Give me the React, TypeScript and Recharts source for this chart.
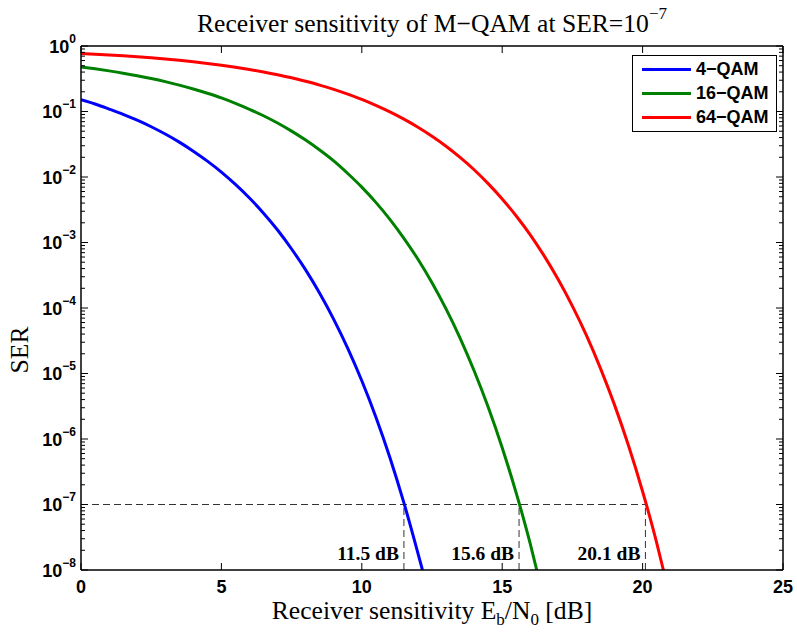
import React from "react";
import {
  LineChart,
  Line,
  XAxis,
  YAxis,
  ReferenceLine,
  ReferenceDot,
  Label,
  Legend,
  Customized,
} from "recharts";

// SER (every 0.5 dB, last point where each curve leaves the axes)
const qam4Snr = [0, 0.5, 1, 1.5, 2, 2.5, 3, 3.5, 4, 4.5, 5, 5.5, 6, 6.5, 7, 7.5, 8, 8.5, 9, 9.5, 10, 10.5, 11, 11.5, 12, 12.16];
const qam4Ser = [
  0.151, 0.13, 0.109, 0.0906, 0.0736, 0.0585, 0.0453, 0.0341, 0.0248, 0.0175, 0.0119, 0.0077, 0.00477, 0.0028,
  0.00155, 7.96e-4, 3.82e-4, 1.68e-4, 6.72e-5, 2.42e-5, 7.74e-6, 2.17e-6, 5.22e-7, 1.06e-7, 1.8e-8, 1e-8,
];

const qam16Snr = [
  0, 0.5, 1, 1.5, 2, 2.5, 3, 3.5, 4, 4.5, 5, 5.5, 6, 6.5, 7, 7.5, 8, 8.5, 9, 9.5, 10, 10.5, 11, 11.5, 12, 12.5, 13,
  13.5, 14, 14.5, 15, 15.5, 16, 16.23,
];
const qam16Ser = [
  0.479, 0.449, 0.417, 0.385, 0.352, 0.319, 0.286, 0.253, 0.221, 0.19, 0.161, 0.133, 0.108, 0.0862, 0.0667, 0.0502,
  0.0366, 0.0258, 0.0176, 0.0113, 0.007, 0.0041, 0.00226, 0.00116, 5.55e-4, 2.43e-4, 9.69e-5, 3.48e-5, 1.1e-5,
  3.08e-6, 7.37e-7, 1.49e-7, 2.5e-8, 1e-8,
];

const qam64Snr = [
  0, 0.5, 1, 1.5, 2, 2.5, 3, 3.5, 4, 4.5, 5, 5.5, 6, 6.5, 7, 7.5, 8, 8.5, 9, 9.5, 10, 10.5, 11, 11.5, 12, 12.5, 13,
  13.5, 14, 14.5, 15, 15.5, 16, 16.5, 17, 17.5, 18, 18.5, 19, 19.5, 20, 20.5, 20.74,
];
const qam64Ser = [
  0.769, 0.75, 0.73, 0.708, 0.685, 0.66, 0.633, 0.604, 0.574, 0.542, 0.509, 0.474, 0.438, 0.401, 0.364, 0.327, 0.289,
  0.253, 0.218, 0.184, 0.153, 0.124, 0.0987, 0.0764, 0.0575, 0.0419, 0.0295, 0.0199, 0.0129, 0.00793, 0.00463,
  0.00254, 0.00131, 6.19e-4, 2.7e-4, 1.07e-4, 3.82e-5, 1.2e-5, 3.32e-6, 7.88e-7, 1.58e-7, 2.62e-8, 1e-8,
];

const targetSer = 1e-7;
const sensitivities = [11.5, 15.6, 20.1];
const sensitivityLabels = ["11.5 dB", "15.6 dB", "20.1 dB"];

const xTicks = [0, 5, 10, 15, 20, 25];
const decades = [-8, -7, -6, -5, -4, -3, -2, -1];

const yTicks: number[] = [];
decades.forEach((e) => {
  for (let m = 1; m <= 9; m++) yTicks.push(m * Math.pow(10, e));
});
yTicks.push(1);

const toRows = (snr: number[], ser: number[]) => snr.map((s, i) => ({ snr: s, ser: ser[i] }));

const series = [
  { name: "4\u2212QAM", color: "#0000ff", data: toRows(qam4Snr, qam4Ser) },
  { name: "16\u2212QAM", color: "#008000", data: toRows(qam16Snr, qam16Ser) },
  { name: "64\u2212QAM", color: "#ff0000", data: toRows(qam64Snr, qam64Ser) },
];

const SERIF = "'Liberation Serif', 'Times New Roman', serif";
const SANS = "'Liberation Sans', Arial, Helvetica, sans-serif";

const W = 797;
const H = 633;
const M = { top: 46, right: 14, left: 0, bottom: 0 };
const Y_W = 81;
const X_H = 63;
const PLOT_W = W - M.right - Y_W;
const PLOT_H = H - M.top - X_H;

const XTick = (props: any) => {
  const { x, y, payload } = props;
  return (
    <g>
      <line x1={x} x2={x} y1={y} y2={y - 7} stroke="#000" />
      <line x1={x} x2={x} y1={y - PLOT_H} y2={y - PLOT_H + 7} stroke="#000" />
      <text x={x} y={y + 23} textAnchor="middle" fontFamily={SANS} fontWeight="bold" fontSize={18} fill="#000">
        {payload.value}
      </text>
    </g>
  );
};

const YTick = (props: any) => {
  const { x, y, payload } = props;
  const lg = Math.log10(payload.value);
  const exp = Math.round(lg);
  const major = Math.abs(lg - exp) < 1e-6;
  const len = major ? 7 : 4;
  return (
    <g>
      <line x1={x} x2={x + len} y1={y} y2={y} stroke="#000" />
      <line x1={x + PLOT_W} x2={x + PLOT_W - len} y1={y} y2={y} stroke="#000" />
      {major && (
        <text x={x - 5} y={y + 6.5} textAnchor="end" fontFamily={SANS} fontWeight="bold" fontSize={18} fill="#000">
          10
          <tspan dy={-10} fontSize={12}>
            {exp === 0 ? "0" : "\u2212" + -exp}
          </tspan>
        </text>
      )}
    </g>
  );
};

const Texts = () => (
  <g fill="#000" fontFamily={SERIF}>
    <text x={Y_W + PLOT_W / 2} y={32} textAnchor="middle" fontSize={25.6}>
      Receiver sensitivity of M{"\u2212"}QAM at SER=10
      <tspan dy={-13} fontSize={17}>
        {"\u2212"}7
      </tspan>
    </text>
    <text x={Y_W + PLOT_W / 2} y={619} textAnchor="middle" fontSize={25.6}>
      Receiver sensitivity E
      <tspan dy={6} fontSize={17}>b</tspan>
      <tspan dy={-6}>/N</tspan>
      <tspan dy={6} fontSize={17}>0</tspan>
      <tspan dy={-6}> [dB]</tspan>
    </text>
    <text x={28} y={350} transform="rotate(-90, 28, 350)" textAnchor="middle" fontSize={25.6}>
      SER
    </text>
  </g>
);

const LegendBox = () => (
  <div
    style={{
      boxSizing: "border-box",
      width: 145,
      height: 77,
      border: "1.5px solid #000",
      background: "#fff",
      paddingTop: 1,
    }}
  >
    {series.map((s) => (
      <div key={s.name} style={{ display: "flex", alignItems: "center", height: 24 }}>
        <span style={{ marginLeft: 9, width: 49, height: 3, background: s.color, display: "inline-block" }} />
        <span style={{ marginLeft: 5, fontFamily: SANS, fontWeight: "bold", fontSize: 18, color: "#000" }}>
          {s.name}
        </span>
      </div>
    ))}
  </div>
);

export default function App() {
  return (
    <div style={{ position: "absolute", left: 0, top: 0 }}>
      <LineChart width={W} height={H} margin={M}>
        <XAxis
          dataKey="snr"
          type="number"
          domain={[0, 25]}
          ticks={xTicks}
          interval={0}
          height={X_H}
          tickSize={0}
          tickMargin={0}
          tickLine={false}
          tick={XTick}
          axisLine={{ stroke: "#000", strokeWidth: 1.5 }}
          allowDataOverflow
        />
        <YAxis
          type="number"
          scale="log"
          domain={[1e-8, 1]}
          ticks={yTicks}
          interval={0}
          width={Y_W}
          tickSize={0}
          tickMargin={0}
          tickLine={false}
          tick={YTick}
          axisLine={{ stroke: "#000", strokeWidth: 1.5 }}
          allowDataOverflow
        />
        <ReferenceLine x={25} stroke="#000" strokeWidth={1.5} />
        <ReferenceLine y={1} stroke="#000" strokeWidth={1.5} />
        <ReferenceLine
          segment={[
            { x: 0, y: targetSer },
            { x: sensitivities[sensitivities.length - 1], y: targetSer },
          ]}
          stroke="#333"
          strokeDasharray="7 4"
        />
        {sensitivities.map((s) => (
          <ReferenceLine
            key={"v" + s}
            segment={[
              { x: s, y: 1e-8 },
              { x: s, y: targetSer },
            ]}
            stroke="#333"
            strokeDasharray="7 4"
          />
        ))}
        {series.map((s) => (
          <Line
            key={s.name}
            data={s.data}
            dataKey="ser"
            name={s.name}
            type="monotone"
            stroke={s.color}
            strokeWidth={3}
            dot={false}
            activeDot={false}
            isAnimationActive={false}
          />
        ))}
        {sensitivities.map((s, i) => (
          <ReferenceDot key={"l" + s} x={s} y={1.8e-8} r={0} fill="none" stroke="none">
            <Label
              value={sensitivityLabels[i]}
              position="left"
              offset={5}
              fill="#000"
              fontSize={19.5}
              fontWeight="bold"
              fontFamily={SERIF}
            />
          </ReferenceDot>
        ))}
        <Legend
          layout="vertical"
          align="center"
          verticalAlign="middle"
          content={LegendBox}
          wrapperStyle={{ left: 632, top: 55, width: 145, height: 77 }}
        />
        <Customized component={Texts} />
      </LineChart>
    </div>
  );
}
